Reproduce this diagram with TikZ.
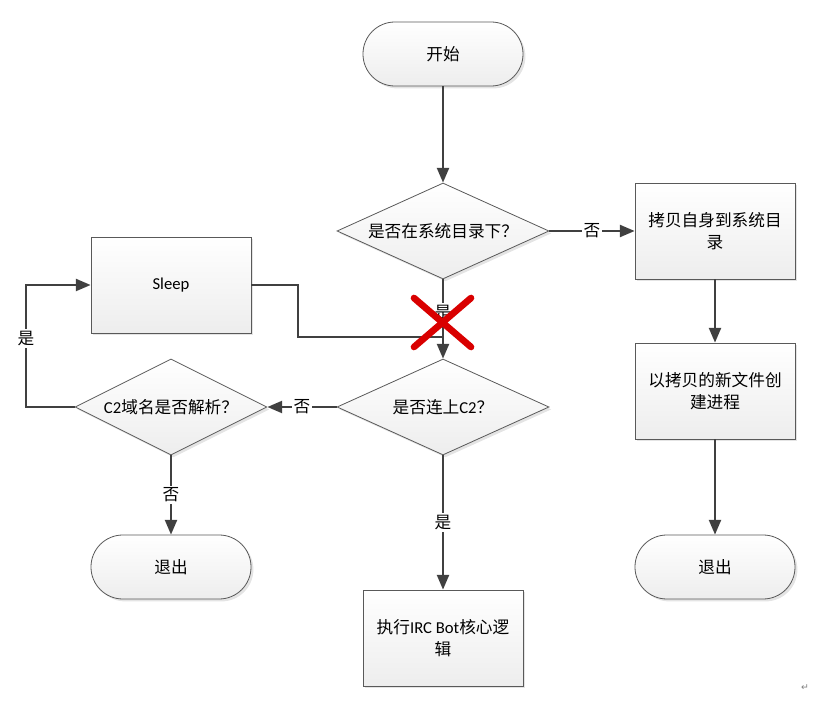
\documentclass[tikz,border=0pt]{standalone}
\usepackage{fontspec}
\setmainfont{Carlito}
\newfontfamily\cjk{Noto Sans CJK SC}
\newfontfamily\symfont{DejaVu Sans}
\usetikzlibrary{shapes.geometric,arrows.meta,shadows}

\tikzset{
  base/.style={draw=gray!70!black,line width=0.6pt,top color=white,bottom color=gray!14,
    drop shadow={shadow xshift=1.8pt,shadow yshift=-1.8pt,fill=gray!35,opacity=.6},
    font=\fontsize{12.5}{17}\selectfont,align=center,inner sep=0pt},
  term/.style={base,rectangle,rounded corners=23.9pt,minimum width=120pt,minimum height=48pt},
  proc/.style={base,rectangle,minimum width=120pt,minimum height=72pt},
  decide/.style={base,diamond,minimum width=159pt,minimum height=72pt,aspect=2.2},
  flow/.style={draw=black!75,line width=1.5pt},
  arr/.style={flow,-{Triangle[length=11pt,width=9pt]}},
  lbl/.style={fill=white,inner sep=1.5pt,font=\cjk\fontsize{12.5}{14}\selectfont}
}

\begin{document}
\begin{tikzpicture}[x=0.75pt,y=-0.75pt]
\useasboundingbox (0,0) rectangle (833,706);
\node [term] (start) at(443,54){\cjk 开始};
\node [decide] (insys) at(443,231){\cjk 是否在系统目录下？};
\node [proc] (copy) at(715,231){\cjk 拷贝自身到系统目\\\cjk 录};
\node [proc] (newproc) at(715,391){\cjk 以拷贝的新文件创\\\cjk 建进程};
\node [term] (exitr) at(715,567){\cjk 退出};
\node [proc] (sleep) at(171,285){Sleep};
\node [decide] (conn) at(443,407){{\cjk 是否连上}C2{\cjk ？}};
\node [decide,minimum width=144pt] (resolve) at(171,407){C2{\cjk 域名是否解析？}};
\node [term] (exitl) at(171,567){\cjk 退出};
\node [proc] (irc) at(443,638){{\cjk 执行}IRC Bot{\cjk 核心逻}\\\cjk 辑};
\coordinate (bend) at(298,337);
\coordinate (loop) at(26,407);

\draw[arr](start)--(insys);
\draw[arr](insys)--node[lbl]{否}(copy);
\draw[arr](copy)--(newproc);
\draw[arr](newproc)--(exitr);
\draw[arr](insys)--node[lbl,pos=0.42]{是}(conn);
\draw[flow](sleep.east)-|(bend)--(bend-|conn.north);
\draw[arr](conn)--node[lbl]{否}(resolve);
\draw[arr](resolve.west)--(loop)|-node[lbl,pos=0.28]{是}(sleep.west);
\draw[arr](resolve)--node[lbl]{否}(exitl);
\draw[arr](conn)--node[lbl]{是}(irc);

% red cross over the yes branch
\coordinate (xa) at(414,298);
\coordinate (xb) at(471,347);
\draw[line width=5pt,red!85!black,line cap=round](xa)--(xb);
\draw[line width=5pt,red!85!black,line cap=round](xa|-xb)--(xb|-xa);

\node [gray,font=\symfont\fontsize{7}{8}\selectfont] (retmark) at(805,688){↵};
\end{tikzpicture}
\end{document}
